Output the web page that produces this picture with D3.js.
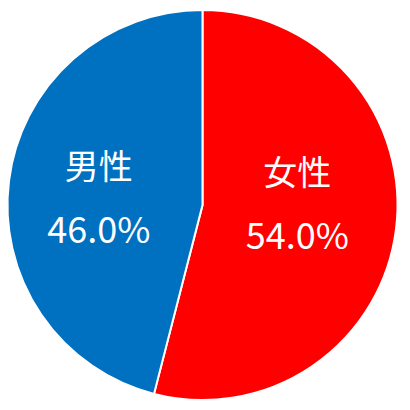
<html>
  <head>
    <script src="https://cdnjs.cloudflare.com/ajax/libs/d3/7.8.5/d3.min.js"></script>
    <style>
    body { margin: 0; background: white; }
    text {
      fill: white;
      font-family: "Noto Sans CJK JP", sans-serif;
    }
    </style>
  </head>
  <body>
    <svg width="410" height="410" id="pie"></svg>
    <script>
    var categories = ['女性', '男性'];
    var shares = [54.0, 46.0];
    var colors = ['#FF0000', '#0070C0'];

    var svg = d3.select('#pie');
    var cx = 202.5, cy = 205, radius = 195;

    var pie = d3.pie().sort(null).value(function(d) { return d; });
    var arcs = pie(shares);
    var arc = d3.arc().innerRadius(0).outerRadius(radius);
    var labelArc = d3.arc().innerRadius(radius * 0.513).outerRadius(radius * 0.513);

    var g = svg.append('g').attr('transform', 'translate(' + cx + ',' + cy + ')');

    g.selectAll('path')
      .data(arcs)
      .enter()
      .append('path')
      .attr('d', arc)
      .attr('fill', function(d, i) { return colors[i]; })
      .attr('stroke', 'white')
      .attr('stroke-width', 2);

    // labels sit a little left of the centroid, like the original
    var labels = g.selectAll('g.label')
      .data(arcs)
      .enter()
      .append('g')
      .attr('class', 'label')
      .attr('transform', function(d) {
        var c = labelArc.centroid(d);
        return 'translate(' + (c[0] - 4.5) + ',' + (c[1] * 0.2) + ')';
      });

    labels.append('text')
      .text(function(d, i) { return categories[i]; })
      .attr('text-anchor', 'middle')
      .attr('y', -23)
      .style('font-size', '34px');

    labels.append('text')
      .text(function(d) { return d3.format('.1f')(d.data) + '%'; })
      .attr('text-anchor', 'middle')
      .attr('y', 41)
      .style('font-size', '36px');
    </script>
  </body>
</html>
